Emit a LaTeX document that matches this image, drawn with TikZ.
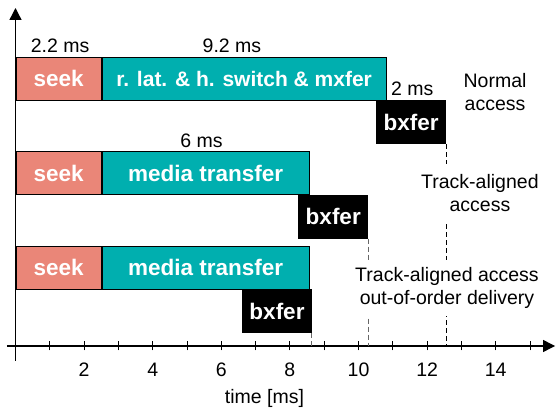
\documentclass[tikz,border=0pt]{standalone}
\usepackage{fontspec}
\setmainfont{Liberation Sans}
\usetikzlibrary{arrows.meta,positioning}
\definecolor{seekred}{HTML}{EA8678}
\definecolor{mxteal}{HTML}{00AFAF}
\begin{document}
\begin{tikzpicture}[x=34.3pt, y=1pt,
    txt/.style={font=\fontsize{19.5}{23.5}\selectfont, align=center, inner sep=1pt},
    bar/.style={draw=black, line width=0.7pt, minimum height=43pt, inner sep=0pt,
      text=white, font=\fontsize{22.5}{27}\selectfont\bfseries},
    seekbar/.style={bar, fill=seekred, minimum width=85.75pt, anchor=south west},
    mxbar/.style={bar, fill=mxteal},
    bxbar/.style={bar, fill=black, minimum width=69pt, anchor=north east},
    guide/.style={dash pattern=on 5pt off 3pt, line width=0.9pt},
    axis/.style={line width=1.3pt, -{Triangle[length=12pt,width=12pt]}}]
  \useasboundingbox (-0.452,-67) rectangle (15.758,346);
  % axes
  \coordinate (o) at (0,0);
  \draw[axis] (0,-15) -- (0,338);
  \draw[axis] (-0.25,0) -- (15.73,0);
  \foreach \t in {1,...,15}
    \draw[line width=1pt] (\t,-4.5) -- (\t,4.5);
  \foreach \t in {2,4,...,14}
    \node[txt] (tick\t) at (\t,-24) {\t};
  \node[txt] (taxis) at (7.26,-52) {time [ms]};
  % normal access
  \node[seekbar] (seek1) at (0,245.5) {seek};
  \node[mxbar, minimum width=283.7pt, right=0pt of seek1,
    font=\fontsize{21}{25}\selectfont\bfseries] (mx1) {r. lat. \& h. switch \& mxfer};
  \node[bxbar] (bx1) at (12.55,245.5) {bxfer};
  % track-aligned
  \node[seekbar] (seek2) at (0,151) {seek};
  \node[mxbar, minimum width=206.8pt, right=0pt of seek2] (mx2) {media transfer};
  \node[bxbar] (bx2) at (10.28,151) {bxfer};
  % out-of-order
  \node[seekbar] (seek3) at (0,56.5) {seek};
  \node[mxbar, minimum width=206.8pt, right=0pt of seek3] (mx3) {media transfer};
  \node[bxbar] (bx3) at (8.64,56.5) {bxfer};
  \draw[guide] (bx1.south east) -- (bx1.south east |- o);
  \draw[guide, black!60] (bx2.south east) -- (bx2.south east |- o);
  \draw[guide, black!60] (bx3.south east) -- (bx3.south east |- o);
  % labels
  \node[txt] (d1) at (1.30,300) {2.2 ms};
  \node[txt] (d2) at (6.31,300) {9.2 ms};
  \node[txt] (d3) at (11.57,257) {2 ms};
  \node[txt] (d4) at (5.42,205) {6 ms};
  \node[txt] (normal) at (13.98,254) {Normal\\access};
  \node[txt, fill=white, inner ysep=10pt] (aligned) at (13.54,153) {Track-aligned\\access};
  \node[txt, fill=white, inner ysep=7pt] (ooo) at (12.58,58) {Track-aligned access\\out-of-order delivery};
\end{tikzpicture}
\end{document}
